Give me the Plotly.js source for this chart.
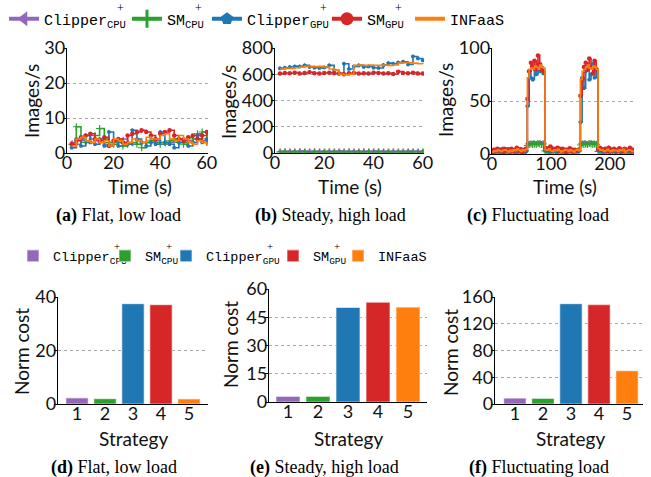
<!DOCTYPE html>
<html><head><meta charset="utf-8">
<script src="https://cdn.plot.ly/plotly-3.0.1.min.js"></script>
<style>html,body{margin:0;padding:0;background:#fff}</style>
</head><body><div id="chart" style="width:651px;height:477px"></div>
<script>
// ---------- data ----------
const seriesBase = ['Clipper','SM','Clipper','SM','INFaaS'];
const seriesSub  = ['CPU','CPU','GPU','GPU',''];
const seriesColors = ['#9467bd','#2ca02c','#1f77b4','#d62728','#ff7f0e'];
const seriesSymbols = ['triangle-left','cross-thin','pentagon','circle',null];

// (a) Flat, low load
const tFlat = [2,4,6,8,10,12,14,16,18,20,22,24,26,28,30,32,34,36,38,40,42,44,46,48,50,52,54,56,58,60];
const flatClipperCPU = [3,2.5,3.5,3,4,3.5,3,2.5,3,3.5,3,4,3,2.5,3.5,3,3,4,3.5,3,2.5,3,3.5,4,3,3.5,3,4,3.5,3];
const flatSmCPU      = [2.5,7.5,4,3,5,5,7,4,3,2.5,3,2,2.5,3,2.5,1.5,3,3.5,3,2.5,3,3.5,4,3,2.5,3,4,5.5,6,4];
const flatClipperGPU = [1.5,4,2,5,3,2.5,4,2,6,3.5,2,3,2.5,6.5,4,3,2,3,2.5,6,3,2.5,1.5,3,4,2,3,5,3,4];
const flatSmGPU      = [2.5,3.5,4.5,5,5.5,4,3.5,4.5,2,3.5,4,3,5,5.5,6,6.5,6,5,4,5.5,6,6.5,5,4,3.5,4.5,5,4,5,6];
const flatInfaas     = [2,4,4.5,3.5,3,4,3,3.5,2,4,3.5,2.5,3,4,3.5,3,4.5,4,4,5,5.5,4,3.5,5,4,3,2.5,3.5,3,2];

// (b) Steady, high load
const tSteady = [2,4,6,8,10,12,14,16,18,20,22,24,26,28,30,32,34,36,38,40,42,44,46,48,50,52,54,56,58,60];
const steadyClipperCPU = [14,15,14,15,16,15,14,15,14,15,15,14,16,15,14,15,15,14,15,16,15,14,15,15,14,15,16,15,14,15];
const steadySmCPU      = [8,9,8,8,9,8,8,9,8,8,9,8,8,8,9,8,8,9,8,8,9,8,8,9,8,8,8,9,8,8];
const steadyClipperGPU = [645,650,655,660,660,668,655,650,648,652,668,630,607,680,640,660,668,655,660,650,648,670,685,680,690,695,675,735,720,705];
const steadySmGPU      = [605,610,608,612,605,610,615,608,605,610,612,608,605,600,607,610,605,608,606,612,610,605,608,602,620,610,608,612,606,605];
const steadyInfaas     = [640,645,645,650,655,660,660,658,660,655,640,630,600,595,600,668,670,668,670,668,668,670,668,670,685,688,690,685,680,678];

// (c) Fluctuating load
const tFluct = [0,3,6,9,12,15,18,21,24,27,30,33,36,39,42,45,48,51,54,57,60,63,66,69,72,75,78,81,84,87,90,93,96,99,102,105,108,111,114,117,120,123,126,129,132,135,138,141,144,147,150,153,156,159,162,165,168,171,174,177,180,183,186,189,192,195,198,201,204,207,210,213,216,219,222,225,228,231,234,237,240];
const fluctClipperCPU = [2,3,2.5,3,2,3.5,3,2.5,3,2, 3,3.5,2.5,3,2,3,2.5,3,3.5,4, 10,10.5,10,11,10,10.5,10,11,10.5,10, 3,2.5,3,2,3.5,3,2.5,3,2,3, 2.5,3,3.5,2.5,3,2,3,2.5,3,4, 10,10.5,11,10,10.5,10,11,10.5,10,10.5, 3,2.5,3,2,3,3.5,2.5,3,2,3, 2.5,3,2,3,2.5,3,2,3,2.5,3,2];
const fluctSmCPU      = [1.5,2,2.5,2,3,2.5,2,3,2.5,2, 3,2.5,2,2.5,3,2,2.5,3,2,3, 8,9,9.5,9,9.5,9,10,9.5,9,9.5, 3,2,2.5,3,2,2.5,3,2,4,2.5, 2,2.5,3,2,2.5,3,2,2.5,2,3, 8.5,9.5,9,9.5,9,10,9.5,9,9.5,9, 2.5,3,2,2.5,3,2,2.5,2,3,2.5, 2,2.5,3,2,2.5,2,3,2.5,2,2.5,2];
const fluctClipperGPU = [1,3,2,4,2.5,3,5,2,4,3, 2,4.5,3,2,5,3,2.5,4,3,2, 45,78,72,70,80,75,84,78,82,76, 4,3,6,2,5,3,4,2,3,5, 2,4,3,2.5,5,3,2,4,3,2.5, 30,72,62,78,82,70,75,85,72,80, 4,3,5,2,4,3,6,2.5,3,4, 2,3.5,5,2,3,4,2.5,3,2,3.5,2];
const fluctSmGPU      = [2.5,4,3,5,3.5,4,2,5,3.5,4.5, 3,5,2.5,4,6,3,4.5,2,3.5,5, 52,78,86,82,88,80,93,85,80,78, 6,5,4,7,3.5,5,4,6,3,4.5, 5,3.5,2,4,5.5,3,4,2.5,3.5,4, 55,70,82,86,80,90,82,76,88,80, 5,6,4,3.5,5,2.5,6,4,3,5, 4,3,5.5,4,2.5,5,3.5,4,6,3,4];
const fluctInfaas     = [2,3,2.5,4,3,2.5,3.5,4,3,2, 3.5,2.5,4,3,5,3.5,2.5,4,3,4.5, 72,80,81,80,83,82,80,84,82,81, 4,3.5,5,3,2.5,4,3,4.5,3,2, 3,4,3.5,2.5,4,3,2,3.5,4.5,3, 70,78,80,82,84,81,80,83,82,80, 5,3.5,4,2.5,3,4.5,3,2.5,4,3, 3.5,2.5,4,3,4.5,2,3,4,3.5,2.5,3];

// (d)(e)(f) normalized cost per strategy
const strategies = [1,2,3,4,5];
const costFlat   = [2.3,2.0,37.5,37.1,1.9];
const costSteady = [3.0,3.0,50.2,53.0,50.4];
const costFluct  = [8.9,8.4,150,148.6,49.7];

// ---------- build ----------
const W = 651, H = 477;
const px = v => v / W;
const py = v => 1 - v / H;
const label = i => seriesBase[i] + (seriesSub[i] ? '<sub>' + seriesSub[i] + '</sub>' : '');

const lineSets = [
  {t: tFlat,   ys: [flatClipperCPU, flatSmCPU, flatClipperGPU, flatSmGPU, flatInfaas],   xa: 'x',  ya: 'y'},
  {t: tSteady, ys: [steadyClipperCPU, steadySmCPU, steadyClipperGPU, steadySmGPU, steadyInfaas], xa: 'x2', ya: 'y2'},
  {t: tFluct,  ys: [fluctClipperCPU, fluctSmCPU, fluctClipperGPU, fluctSmGPU, fluctInfaas], xa: 'x3', ya: 'y3'}
];
const barSets = [
  {c: costFlat, xa: 'x4', ya: 'y4'},
  {c: costSteady, xa: 'x5', ya: 'y5'},
  {c: costFluct, xa: 'x6', ya: 'y6'}
];

const traces = [];
lineSets.forEach(set => {
  set.ys.forEach((y, i) => {
    const tr = {
      type: 'scatter', x: set.t, y: y, xaxis: set.xa, yaxis: set.ya,
      mode: seriesSymbols[i] ? 'lines+markers' : 'lines',
      line: {shape: 'hv', color: seriesColors[i], width: 1.6},
      showlegend: false, hoverinfo: 'skip'
    };
    if (seriesSymbols[i]) {
      tr.marker = {symbol: seriesSymbols[i], size: seriesSymbols[i]==='cross-thin'?5:4.5, color: seriesColors[i],
                   line: {width: seriesSymbols[i]==='cross-thin'?1.2:0, color: seriesColors[i]}};
    }
    traces.push(tr);
  });
});
const legId = n => n === 1 ? 'legend' : 'legend' + n;
// legend-only entries for the top legend (one legend box per entry)
seriesBase.forEach((b, i) => {
  const tr = {
    type: 'scatter', x: [null], y: [null], xaxis: 'x', yaxis: 'y',
    name: label(i), legend: legId(i + 1),
    mode: seriesSymbols[i] ? 'lines+markers' : 'lines',
    line: {color: seriesColors[i], width: 4}, hoverinfo: 'skip'
  };
  if (seriesSymbols[i]) {
    tr.marker = {symbol: seriesSymbols[i], size: 13, color: seriesColors[i],
                 line: {width: seriesSymbols[i]==='cross-thin'?3:0, color: seriesColors[i]}};
  }
  traces.push(tr);
});
barSets.forEach((set, si) => {
  strategies.forEach((s, i) => {
    traces.push({
      type: 'bar', x: [s], y: [set.c[i]], xaxis: set.xa, yaxis: set.ya,
      width: 0.8, name: label(i), legend: legId(i + 6), showlegend: si === 0,
      marker: {color: seriesColors[i], line: {color: 'rgba(255,255,255,0.55)', width: 1.2}},
      hoverinfo: 'skip'
    });
  });
});

const tickFont = {family: 'Lato, sans-serif', size: 18, color: '#111'};
const titleFont = {family: 'Lato, sans-serif', size: 19, color: '#111'};
function xax(d0, d1, range, dtick, anchor) {
  return {domain: [px(d0), px(d1)], range: range, dtick: dtick, tick0: 0, anchor: anchor,
    showline: true, linecolor: '#000', linewidth: 1.2, showgrid: false, zeroline: false,
    ticks: '', tickfont: tickFont, ticklabelstandoff: -7,
    automargin: false, fixedrange: true};
}
function yax(top, bottom, range, dtick, anchor) {
  return {domain: [py(bottom), py(top)], range: range, dtick: dtick, tick0: 0, anchor: anchor,
    showline: true, linecolor: '#000', linewidth: 1.2, showgrid: true, gridcolor: '#a8a8a8',
    griddash: 'dot', gridwidth: 1, zeroline: false,
    ticks: 'outside', ticklen: 3, tickcolor: '#000', tickfont: tickFont, ticklabelstandoff: -6,
    automargin: false, fixedrange: true};
}

const captionFont = {family: 'Liberation Serif, serif', size: 18, color: '#000'};
const captions = [
  ['(a)', 'Flat, low load', 118, 215],
  ['(b)', 'Steady, high load', 331, 215],
  ['(c)', 'Fluctuating load', 538, 215],
  ['(d)', 'Flat, low load', 114, 467],
  ['(e)', 'Steady, high load', 324, 467],
  ['(f)', 'Fluctuating load', 539, 467]
];
const annotations = captions.map(c => ({
  xref: 'paper', yref: 'paper', x: px(c[2]), y: py(c[3]), xanchor: 'center', yanchor: 'middle',
  text: '<b>' + c[0] + '</b> ' + c[1], showarrow: false, font: captionFont
}));
// axis titles
const yTitles = [
  ['Images/s', 31, 101], ['Images/s', 229, 102], ['Images/s', 445, 100],
  ['Norm cost', 21, 352], ['Norm cost', 230, 345], ['Norm cost', 450, 353]
];
yTitles.forEach(t => annotations.push({xref: 'paper', yref: 'paper', x: px(t[1]), y: py(t[2]),
  xanchor: 'center', yanchor: 'middle', textangle: -90, text: t[0], showarrow: false, font: titleFont}));
const xTitles = [
  ['Time (s)', 140, 186], ['Time (s)', 350, 186], ['Time (s)', 565, 186],
  ['Strategy', 133, 438], ['Strategy', 348, 438], ['Strategy', 570, 438]
];
xTitles.forEach(t => annotations.push({xref: 'paper', yref: 'paper', x: px(t[1]), y: py(t[2]),
  xanchor: 'center', yanchor: 'middle', text: t[0], showarrow: false, font: titleFont}));

// legend boxes: text start x (px) of each entry in the two legend rows
const topTextX = [49, 172, 252, 372, 455], topY = 19, topFs = 15;
const botTextX = [55, 147, 208, 315, 380], botY = 256, botFs = 13.5;
const layout = {
  width: W, height: H, margin: {l: 0, r: 0, t: 0, b: 0},
  paper_bgcolor: '#fff', plot_bgcolor: '#fff',
  barmode: 'overlay', showlegend: true,
  xaxis:  xax(67, 208, [0, 60.5], 20, 'y'),
  yaxis:  yax(48, 153, [0, 30], 10, 'x'),
  xaxis2: xax(275, 424, [0, 60.5], 20, 'y2'),
  yaxis2: yax(48, 153, [0, 800], 200, 'x2'),
  xaxis3: xax(492, 634, [0, 241], 100, 'y3'),
  yaxis3: yax(48, 154, [0, 100], 50, 'x3'),
  xaxis4: xax(58, 208, [0.32, 5.68], 1, 'y4'),
  yaxis4: yax(297, 404, [0, 40], 20, 'x4'),
  xaxis5: xax(269, 427, [0.367, 5.633], 1, 'y5'),
  yaxis5: yax(289, 402, [0, 60], 15, 'x5'),
  xaxis6: xax(495, 643, [0.29, 5.57], 1, 'y6'),
  yaxis6: yax(297, 404, [0, 160], 40, 'x6'),
  annotations: annotations
};
function addLegend(n, textX, yc, fs, off) {
  layout[legId(n)] = {orientation: 'h', x: px(textX - off), y: py(yc), xanchor: 'left', yanchor: 'middle',
    font: {family: 'Liberation Mono, monospace', size: fs, color: '#000'},
    bgcolor: 'rgba(0,0,0,0)', borderwidth: 0, itemwidth: 30};
}
topTextX.forEach((x, i) => addLegend(i + 1, x, topY, topFs, 45));
botTextX.forEach((x, i) => addLegend(i + 6, x, botY, botFs, 42));
// stacked superscript "+" above each subscript
function addPlus(textX, base, fs, y, adj) {
  const cw = 0.6 * fs;
  const xc = textX + base.length * cw + 1.5 * cw * 0.7 + adj;
  annotations.push({xref: 'paper', yref: 'paper', x: px(xc), y: py(y), text: '+', showarrow: false,
    xanchor: 'center', yanchor: 'middle', font: {family: 'Liberation Serif, serif', size: fs * 0.8, color: '#000'}});
}
for (let i = 0; i < 4; i++) {
  addPlus(topTextX[i], seriesBase[i], topFs, topY - 11, -1);
  addPlus(botTextX[i], seriesBase[i], botFs, botY - 10, -3);
}

Plotly.newPlot('chart', traces, layout, {displayModeBar: false, staticPlot: true});
</script></body></html>
